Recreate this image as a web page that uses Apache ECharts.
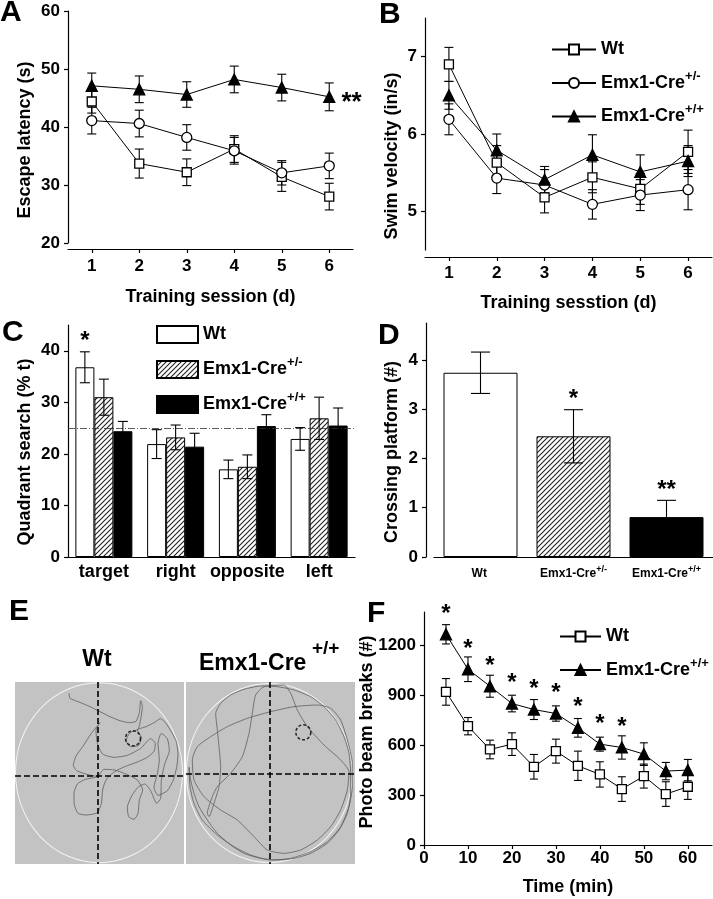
<!DOCTYPE html>
<html>
<head>
<meta charset="utf-8">
<script src="https://cdn.jsdelivr.net/npm/echarts@6/dist/echarts.min.js"></script>
<style>
html, body { margin: 0; padding: 0; background: #fff; }
#chart { width: 713px; height: 899px; }
</style>
</head>
<body>
<div id="chart"></div>
<script>
var FONT = '"Liberation Sans", Arial, sans-serif';

// ---------- data ----------
var sessions = ['1', '2', '3', '4', '5', '6'];
var genotypes = ['Wt', 'Emx1-Cre+/-', 'Emx1-Cre+/+'];

// A: escape latency (s)
var escWt = [44.4, 33.7, 32.2, 36.2, 31.4, 28.0];
var escWtErr = [2.0, 2.5, 2.3, 2.3, 2.5, 2.3];
var escHet = [41.1, 40.6, 38.2, 35.9, 32.1, 33.3];
var escHetErr = [2.3, 2.3, 2.2, 2.3, 2.1, 2.2];
var escHom = [47.1, 46.5, 45.6, 48.2, 46.8, 45.2];
var escHomErr = [2.2, 2.3, 2.2, 2.3, 2.3, 2.4];
var escStars = ['', '', '', '', '', '**'];

// B: swim velocity (in/s)
var velWt = [6.90, 5.63, 5.18, 5.44, 5.29, 5.77];
var velWtErr = [0.22, 0.22, 0.20, 0.20, 0.20, 0.28];
var velHet = [6.19, 5.43, 5.34, 5.09, 5.21, 5.28];
var velHetErr = [0.20, 0.20, 0.20, 0.19, 0.20, 0.26];
var velHom = [6.50, 5.79, 5.41, 5.73, 5.51, 5.65];
var velHomErr = [0.18, 0.21, 0.17, 0.26, 0.22, 0.20];

// C: quadrant search (% t)
var quadrants = ['target', 'right', 'opposite', 'left'];
var quadWt = [36.8, 21.9, 17.0, 22.9];
var quadWtErr = [3.0, 2.8, 1.8, 2.2];
var quadHet = [31.0, 23.2, 17.5, 26.9];
var quadHetErr = [3.5, 2.4, 2.3, 4.1];
var quadHom = [24.4, 21.4, 25.4, 25.5];
var quadHomErr = [1.9, 2.6, 2.2, 3.4];
var quadStars = ['*', '', '', ''];
var chanceLevel = 25;

// D: platform crossings
var crossMean = [3.74, 2.45, 0.81];
var crossErr = [0.42, 0.54, 0.34];
var crossStars = ['', '*', '**'];

// F: photo beam breaks
var timeMin = [5, 10, 15, 20, 25, 30, 35, 40, 45, 50, 55, 60];
var beamWt = [920, 714, 574, 606, 470, 564, 476, 424, 336, 414, 306, 350];
var beamWtErr = [80, 52, 56, 68, 74, 72, 88, 76, 74, 72, 74, 76];
var beamHom = [1266, 1056, 954, 850, 814, 790, 704, 606, 586, 546, 444, 450];
var beamHomErr = [58, 74, 66, 50, 60, 46, 56, 42, 70, 68, 52, 64];
var beamStars = ['*', '*', '*', '*', '*', '*', '*', '*', '*', '', '', ''];

// E: swim paths (image units of each arena panel)
var wtPath = [[165,40],[168,55],[195,66],[228,80],[258,95],[288,110],[318,122],[345,128],[366,124],[376,98],[380,62],[385,80],[380,118],[372,148],[348,158],[336,182],[350,200],[374,196],[382,172],[370,150],[396,140],[420,128],[440,116],[456,130],[470,152],[486,182],[492,222],[488,262],[478,300],[460,332],[432,346],[420,322],[430,282],[436,240],[432,190],[442,160],[460,176],[466,212],[452,252],[442,300],[440,355],[428,370],[410,332],[392,312],[374,320],[354,346],[340,382],[344,410],[360,418],[372,400],[376,360],[386,330],[370,300],[340,284],[302,270],[270,268],[250,290],[214,298],[190,312],[180,340],[181,374],[192,400],[216,405],[250,398],[262,370],[266,330],[276,300],[300,276],[332,260],[370,246],[400,232],[420,214],[424,190],[410,176],[380,205],[340,226],[300,232],[266,222],[250,190],[246,150],[258,128],[232,160],[206,200],[186,228],[178,256],[188,272],[222,284],[252,290]];
var homPath = [[15,262],[20,300],[30,340],[45,380],[70,420],[100,460],[140,495],[180,520],[230,535],[280,540],[330,535],[380,520],[430,490],[465,450],[490,400],[500,340],[500,280],[495,220],[480,170],[455,120],[420,80],[380,50],[330,30],[280,20],[230,18],[180,28],[140,45],[110,70],[95,100],[100,150],[105,200],[110,260],[105,320],[90,370],[75,410],[70,400],[85,350],[100,320],[140,280],[175,230],[195,160],[205,100],[215,45],[240,20],[300,15],[320,40],[340,90],[370,140],[420,195],[470,240],[495,275],[490,330],[470,390],[440,440],[400,480],[350,510],[300,520],[250,510],[210,470],[160,420],[110,390],[60,350],[30,300],[25,240],[40,200],[80,170],[130,140],[190,115],[260,95],[330,80],[400,75],[440,85],[470,120],[490,180],[505,250],[505,320],[495,380],[470,440],[430,485],[380,515],[320,535],[260,540],[200,525],[150,500],[100,465],[55,420],[30,370],[18,320],[15,262]];

// ---------- helpers ----------
function supText(s) {
    var m = s.match(/^(.*?)(\+\/[+-])$/);
    return m ? m[1] + '{sup|' + m[2] + '}' : s + '{sup| }';
}

function legendFmt(name) {
    return supText(name.replace(/ \(.\)$/, ''));
}

function plain(v) { return String(v); }

function hatch() {
    var c = document.createElement('canvas');
    c.width = 5; c.height = 5;
    var g = c.getContext('2d');
    g.fillStyle = '#fff';
    g.fillRect(0, 0, 5, 5);
    g.strokeStyle = '#222';
    g.lineWidth = 1.1;
    g.beginPath();
    g.moveTo(0, 5); g.lineTo(5, 0);
    g.moveTo(-1, 1); g.lineTo(1, -1);
    g.moveTo(4, 6); g.lineTo(6, 4);
    g.stroke();
    return c;
}
var HATCH = {image: hatch(), repeat: 'repeat'};

function axis(gi, o) {
    var ax = {
        gridIndex: gi,
        nameLocation: 'middle',
        nameMoveOverlap: false,
        nameTextStyle: {color: '#000', fontFamily: FONT, fontWeight: 'bold', fontSize: 18},
        axisLine: {show: true, onZero: false, lineStyle: {color: '#000', width: 1.2}},
        axisTick: {show: true, length: 4, lineStyle: {color: '#000', width: 1.2}},
        axisLabel: {color: '#000', fontFamily: FONT, fontWeight: 'bold', fontSize: 17, margin: 8, formatter: plain},
        splitLine: {show: false}
    };
    for (var k in o) {
        if (ax[k] && typeof ax[k] === 'object' && typeof o[k] === 'object' && !Array.isArray(o[k])) {
            Object.assign(ax[k], o[k]);
        } else {
            ax[k] = o[k];
        }
    }
    return ax;
}

function hidden(gi, min, max, inverse) {
    return {gridIndex: gi, type: 'value', min: min, max: max, inverse: !!inverse, show: false};
}

function errBars(gi, xs, vals, errs, cap, dx, z, stars, starGap) {
    return {
        type: 'custom', xAxisIndex: gi, yAxisIndex: gi, z: z, silent: true,
        data: vals.map(function (v, i) { return [xs[i], v, errs[i]]; }),
        encode: {x: 0, y: 1},
        renderItem: function (params, api) {
            var x = api.value(0), y = api.value(1), e = api.value(2);
            var top = api.coord([x, y + e]);
            var bot = api.coord([x, y - e]);
            var cx = top[0] + dx, h = cap / 2;
            var st = {stroke: '#000', lineWidth: 1.1};
            var kids = [
                {type: 'line', shape: {x1: cx, y1: top[1], x2: cx, y2: bot[1]}, style: st},
                {type: 'line', shape: {x1: cx - h, y1: top[1], x2: cx + h, y2: top[1]}, style: st},
                {type: 'line', shape: {x1: cx - h, y1: bot[1], x2: cx + h, y2: bot[1]}, style: st}
            ];
            if (stars && stars[params.dataIndex]) {
                kids.push({type: 'text', style: {
                    text: stars[params.dataIndex], x: cx, y: top[1] - starGap,
                    align: 'center', verticalAlign: 'middle',
                    font: 'bold 24px ' + FONT, fill: '#000'
                }});
            }
            return {type: 'group', children: kids};
        }
    };
}

function lineS(name, gi, xs, vals, sym, size, filled, stars, starPos) {
    var s = {
        name: name, type: 'line', xAxisIndex: gi, yAxisIndex: gi, z: 3,
        data: vals.map(function (v, i) { return [xs[i], v]; }),
        symbol: sym, symbolSize: size, showAllSymbol: true,
        lineStyle: {color: '#000', width: 1},
        itemStyle: {color: filled ? '#000' : '#fff', borderColor: '#000', borderWidth: 1.3}
    };
    if (stars) {
        s.label = {
            show: true, position: starPos, color: '#000', fontFamily: FONT,
            fontWeight: 'bold', fontSize: starPos === 'right' ? 26 : 24,
            distance: starPos === 'right' ? 6 : 2,
            offset: starPos === 'right' ? [0, 6] : [0, 0],
            formatter: function (p) { return stars[p.dataIndex]; }
        };
    }
    return s;
}

function barS(name, gi, vals, fill) {
    return {
        name: name, type: 'bar', xAxisIndex: gi, yAxisIndex: gi, z: 2,
        data: vals, barWidth: 19, barGap: '0%',
        itemStyle: {color: fill, borderColor: '#000', borderWidth: 1}
    };
}

function arena(gi, path, center, size, platform, cross) {
    return [
        {
            type: 'line', xAxisIndex: gi, yAxisIndex: gi, z: 2, silent: true,
            data: path, symbol: 'none', smooth: 0.2,
            lineStyle: {color: '#5e5e5e', width: 0.8},
            markLine: {
                silent: true, symbol: ['none', 'none'], label: {show: false},
                lineStyle: {color: '#000', width: 1.6, type: [6, 3]},
                data: [{xAxis: cross[0]}, {yAxis: cross[1]}]
            }
        },
        {
            type: 'scatter', xAxisIndex: gi, yAxisIndex: gi, z: 1, silent: true,
            data: [center], symbol: 'circle', symbolSize: size,
            itemStyle: {color: 'rgba(0,0,0,0)', borderColor: '#fff', borderWidth: 1}
        },
        {
            type: 'scatter', xAxisIndex: gi, yAxisIndex: gi, z: 4, silent: true,
            data: [platform], symbol: 'circle', symbolSize: 15,
            itemStyle: {color: 'rgba(0,0,0,0)', borderColor: '#000', borderWidth: 1.5, borderType: [3, 2]}
        }
    ];
}

var legendText = {
    color: '#000', fontFamily: FONT, fontWeight: 'bold', fontSize: 18,
    rich: {sup: {color: '#000', fontFamily: FONT, fontWeight: 'bold', fontSize: 13, padding: [0, 0, 14, 0]}}
};

function grid(l, t, w, h, bg) {
    var g = {left: l, top: t, width: w, height: h, containLabel: false, outerBoundsMode: 'none'};
    if (bg) { g.show = true; g.backgroundColor = bg; g.borderWidth = 0; }
    return g;
}

function letter(ch, x, y) {
    return {type: 'text', x: x, y: y, style: {text: ch, font: 'bold 30px ' + FONT, fill: '#000', verticalAlign: 'middle'}};
}

function yTitle(text, x, y) {
    return {type: 'text', x: x, y: y, rotation: Math.PI / 2,
        style: {text: text, font: 'bold 18px ' + FONT, fill: '#000', align: 'center', verticalAlign: 'middle'}};
}

// ---------- option ----------
var option = {
    animation: false,
    backgroundColor: '#fff',
    grid: [
        grid(68, 11, 285, 232),          // A
        grid(425, 18, 287, 232),         // B
        grid(68, 325, 287, 232),         // C
        grid(434, 323, 279, 234),        // D
        grid(424, 612, 288, 233),        // F
        grid(15, 682, 169, 182, '#c3c3c3'),  // E Wt
        grid(186, 682, 169, 182, '#c3c3c3')  // E Emx1
    ],
    xAxis: [
        axis(0, {type: 'category', data: sessions, offset: 6, axisTick: {alignWithLabel: true},
            name: 'Training session (d)', nameGap: 39, axisLabel: {margin: 9}}),
        axis(1, {type: 'category', data: sessions, offset: 7, axisTick: {alignWithLabel: true},
            name: 'Training sesstion (d)', nameGap: 37}),
        axis(2, {type: 'category', data: quadrants, axisTick: {show: false},
            axisLabel: {margin: 6, fontSize: 18, interval: 0}}),
        axis(3, {type: 'category', data: genotypes, axisTick: {show: false},
            axisLabel: {fontSize: 12, margin: 8, interval: 0, formatter: supText,
                rich: {sup: {color: '#000', fontFamily: FONT, fontWeight: 'bold', fontSize: 9, padding: [0, 0, 9, 0]}}}}),
        axis(4, {type: 'value', min: 0, max: 65.5, name: 'Time (min)', nameGap: 33,
            axisLabel: {margin: 5, customValues: [0, 10, 20, 30, 40, 50, 60]},
            axisTick: {customValues: [0, 10, 20, 30, 40, 50, 60]}}),
        hidden(5, 3, 510),
        hidden(6, 6, 513)
    ],
    yAxis: [
        axis(0, {type: 'value', min: 20, max: 60, interval: 10}),
        axis(1, {type: 'value', min: 4.5, max: 7.5,
            axisLabel: {customValues: [5, 6, 7]}, axisTick: {customValues: [5, 6, 7]}}),
        axis(2, {type: 'value', min: 0, max: 45,
            axisLabel: {customValues: [0, 10, 20, 30, 40]}, axisTick: {customValues: [0, 10, 20, 30, 40]}}),
        axis(3, {type: 'value', min: 0, max: 4.75, offset: 8,
            axisLabel: {customValues: [0, 1, 2, 3, 4]}, axisTick: {customValues: [0, 1, 2, 3, 4]}}),
        axis(4, {type: 'value', min: 0, max: 1400,
            axisLabel: {customValues: [0, 300, 600, 900, 1200]}, axisTick: {customValues: [0, 300, 600, 900, 1200]}}),
        hidden(5, 6, 552, true),
        hidden(6, 6, 552, true)
    ],
    legend: [
        {data: ['Wt (B)', 'Emx1-Cre+/- (B)', 'Emx1-Cre+/+ (B)'], orient: 'vertical', left: 546, top: 31,
            itemWidth: 44, itemHeight: 12.5, itemGap: 11, selectedMode: false,
            formatter: legendFmt, textStyle: legendText},
        {data: ['Wt (C)', 'Emx1-Cre+/- (C)', 'Emx1-Cre+/+ (C)'], orient: 'vertical', left: 151, top: 316,
            itemWidth: 41, itemHeight: 17, itemGap: 12, icon: 'rect', selectedMode: false,
            formatter: legendFmt, textStyle: legendText},
        {data: ['Wt (F)', 'Emx1-Cre+/+ (F)'], orient: 'vertical', left: 554, top: 618,
            itemWidth: 41, itemHeight: 12.5, itemGap: 11, selectedMode: false,
            formatter: legendFmt, textStyle: legendText}
    ],
    series: [].concat(
        // A
        errBars(0, sessions, escWt, escWtErr, 9, 0, 1),
        errBars(0, sessions, escHet, escHetErr, 9, 0, 1),
        errBars(0, sessions, escHom, escHomErr, 9, 0, 1),
        lineS('Wt (A)', 0, sessions, escWt, 'rect', 9, false),
        lineS('Emx1-Cre+/- (A)', 0, sessions, escHet, 'circle', 10, false),
        lineS('Emx1-Cre+/+ (A)', 0, sessions, escHom, 'triangle', 11, true, escStars, 'right'),
        // B
        errBars(1, sessions, velWt, velWtErr, 9, 0, 1),
        errBars(1, sessions, velHet, velHetErr, 9, 0, 1),
        errBars(1, sessions, velHom, velHomErr, 9, 0, 1),
        lineS('Wt (B)', 1, sessions, velWt, 'rect', 9, false),
        lineS('Emx1-Cre+/- (B)', 1, sessions, velHet, 'circle', 10, false),
        lineS('Emx1-Cre+/+ (B)', 1, sessions, velHom, 'triangle', 11, true),
        // C
        (function () {
            var s = barS('Wt (C)', 2, quadWt, '#fff');
            s.markLine = {
                silent: true, symbol: ['none', 'none'], label: {show: false},
                lineStyle: {color: '#333', width: 0.8, type: [7, 2, 1, 2]},
                data: [{yAxis: chanceLevel}]
            };
            return s;
        })(),
        barS('Emx1-Cre+/- (C)', 2, quadHet, HATCH),
        barS('Emx1-Cre+/+ (C)', 2, quadHom, '#000'),
        errBars(2, quadrants, quadWt, quadWtErr, 10, -19, 5, quadStars, 10),
        errBars(2, quadrants, quadHet, quadHetErr, 10, 0, 5),
        errBars(2, quadrants, quadHom, quadHomErr, 10, 19, 5),
        // D
        {
            type: 'bar', xAxisIndex: 3, yAxisIndex: 3, z: 2, barWidth: 74,
            data: crossMean.map(function (v, i) {
                return {value: v, itemStyle: {color: ['#fff', HATCH, '#000'][i]}};
            }),
            itemStyle: {borderColor: '#000', borderWidth: 1}
        },
        errBars(3, genotypes, crossMean, crossErr, 19, 0, 5, crossStars, 10),
        // F
        errBars(4, timeMin, beamWt, beamWtErr, 8, 0, 1),
        errBars(4, timeMin, beamHom, beamHomErr, 8, 0, 1),
        lineS('Wt (F)', 4, timeMin, beamWt, 'rect', 9, false),
        lineS('Emx1-Cre+/+ (F)', 4, timeMin, beamHom, 'triangle', 11, true, beamStars, 'top'),
        // E
        arena(5, wtPath, [255, 278], [167, 180], [357, 175], [250, 287]),
        arena(6, homPath, [256, 279], [166, 179], [358, 157], [258, 280])
    ),
    graphic: [
        letter('A', 0, 13),
        letter('B', 379, 15),
        letter('C', 2, 333),
        letter('D', 378, 336),
        letter('E', 9, 612),
        letter('F', 367, 614),
        yTitle('Escape latency (s)', 25, 140),
        yTitle('Swim velocity (in/s)', 392, 156),
        yTitle('Quadrant search (% t)', 25, 452),
        yTitle('Crossing platform (#)', 392, 452),
        yTitle('Photo beam breaks (#)', 367, 732),
        {type: 'text', x: 97, y: 660, style: {text: 'Wt', font: 'bold 23px ' + FONT, fill: '#000', align: 'center', verticalAlign: 'middle'}},
        {type: 'text', x: 199, y: 664, style: {text: 'Emx1-Cre', font: 'bold 23px ' + FONT, fill: '#000', verticalAlign: 'middle'}},
        {type: 'text', x: 312, y: 649, style: {text: '+/+', font: 'bold 19px ' + FONT, fill: '#000', verticalAlign: 'middle'}}
    ]
};

var chart = echarts.init(document.getElementById('chart'), null, {renderer: 'canvas'});
chart.setOption(option);
</script>
</body>
</html>
